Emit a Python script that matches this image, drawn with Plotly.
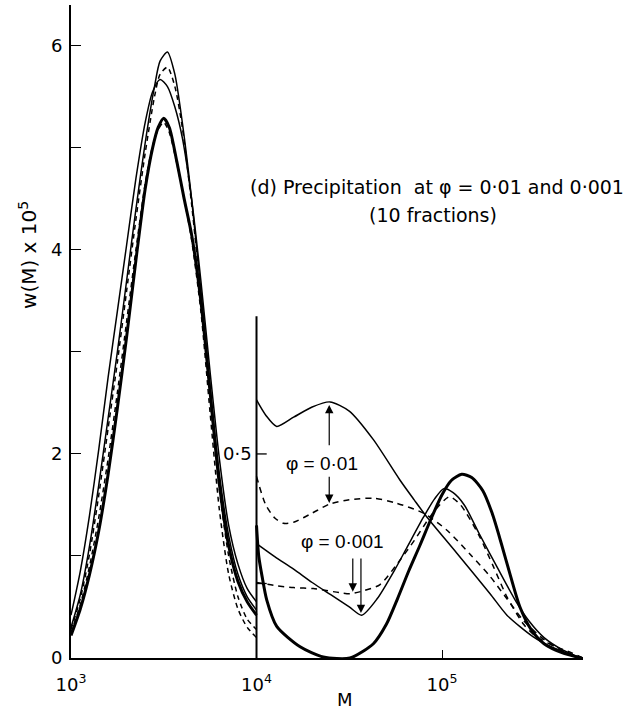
import plotly.graph_objects as go

# ---------------- data (log10 M, w(M) x 1e5 in main-axis units) ----------------
# main low-M region (10^3 .. 10^4)
m1_logM = [3.0, 3.05, 3.1, 3.15, 3.2, 3.25, 3.3, 3.35, 3.4, 3.45, 3.48, 3.52, 3.56, 3.6, 3.65, 3.7, 3.75, 3.8, 3.85, 3.9, 3.95, 4.0]
m1_w = [0.30, 0.62, 1.1, 1.7, 2.35, 3.0, 3.7, 4.4, 5.05, 5.6, 5.85, 5.94, 5.72, 5.25, 4.5, 3.6, 2.65, 1.8, 1.2, 0.82, 0.6, 0.47]

m2_logM = m1_logM
m2_w = [0.28, 0.58, 1.02, 1.6, 2.25, 2.9, 3.6, 4.3, 4.95, 5.5, 5.72, 5.79, 5.6, 5.2, 4.45, 3.55, 2.55, 1.65, 1.0, 0.6, 0.38, 0.28]

m3_logM = [3.0, 3.05, 3.1, 3.15, 3.2, 3.25, 3.3, 3.35, 3.4, 3.44, 3.48, 3.52, 3.56, 3.6, 3.65, 3.7, 3.75, 3.8, 3.85, 3.9, 3.95, 4.0]
m3_w = [0.42, 0.85, 1.4, 2.05, 2.75, 3.4, 4.05, 4.7, 5.25, 5.55, 5.67, 5.6, 5.4, 5.1, 4.5, 3.7, 2.8, 1.95, 1.3, 0.92, 0.68, 0.55]

m4_logM = [3.0, 3.05, 3.1, 3.15, 3.2, 3.25, 3.3, 3.35, 3.4, 3.44, 3.47, 3.5, 3.53, 3.57, 3.61, 3.65, 3.7, 3.75, 3.8, 3.85, 3.9, 3.95, 4.0]
m4_w = [0.22, 0.48, 0.82, 1.25, 1.8, 2.45, 3.15, 3.9, 4.6, 5.0, 5.2, 5.29, 5.2, 4.87, 4.5, 4.15, 3.5, 2.6, 1.7, 1.1, 0.75, 0.55, 0.42]

m5_logM = m4_logM
m5_w = [0.25, 0.52, 0.9, 1.38, 1.95, 2.6, 3.3, 4.0, 4.65, 5.02, 5.18, 5.25, 5.15, 4.85, 4.5, 4.1, 3.4, 2.4, 1.45, 0.82, 0.48, 0.3, 0.2]

# inset high-M region (10^4 .. 6x10^5), plotted in main-axis units
a_logM = [4.0, 4.05, 4.109, 4.2, 4.3, 4.396, 4.5, 4.63, 4.773, 4.85, 4.917, 5.079, 5.259, 5.35, 5.49, 5.6, 5.744]
a_w = [2.53, 2.38, 2.27, 2.36, 2.46, 2.51, 2.42, 2.14, 1.745, 1.55, 1.385, 1.03, 0.63, 0.42, 0.21, 0.1, 0.0]

b_logM = [4.0, 4.05, 4.1, 4.145, 4.2, 4.3, 4.396, 4.5, 4.63, 4.75, 4.9, 5.025, 5.15, 5.259, 5.35, 5.438, 5.55, 5.65, 5.76]
b_w = [1.78, 1.5, 1.37, 1.32, 1.33, 1.42, 1.51, 1.55, 1.566, 1.52, 1.42, 1.255, 1.02, 0.80, 0.58, 0.37, 0.18, 0.07, 0.0]

c_logM = [4.0, 4.1, 4.2, 4.3, 4.4, 4.5, 4.567, 4.65, 4.75, 4.81, 4.9, 4.96, 5.01, 5.06, 5.12, 5.2, 5.3, 5.4, 5.47, 5.55, 5.65, 5.75]
c_w = [1.12, 0.99, 0.87, 0.74, 0.62, 0.50, 0.42, 0.58, 0.88, 1.08, 1.38, 1.56, 1.66, 1.62, 1.5, 1.22, 0.88, 0.55, 0.36, 0.2, 0.08, 0.0]

d_logM = [4.0, 4.1, 4.2, 4.306, 4.45, 4.504, 4.58, 4.666, 4.774, 4.85, 4.95, 5.04, 5.1, 5.2, 5.276, 5.35, 5.44, 5.5, 5.6, 5.7, 5.76]
d_w = [0.74, 0.71, 0.69, 0.68, 0.64, 0.63, 0.66, 0.72, 0.96, 1.15, 1.42, 1.58, 1.5, 1.2, 0.9, 0.6, 0.33, 0.22, 0.12, 0.05, 0.0]

e_logM = [4.0, 4.012, 4.03, 4.055, 4.109, 4.235, 4.36, 4.504, 4.63, 4.7, 4.76, 4.82, 4.88, 4.94, 5.0, 5.05, 5.106, 5.16, 5.22, 5.27, 5.32, 5.37, 5.42, 5.48, 5.55, 5.65, 5.75]
e_w = [1.3, 1.0, 0.8, 0.57, 0.31, 0.11, 0.01, 0.0, 0.14, 0.33, 0.58, 0.85, 1.1, 1.36, 1.6, 1.74, 1.80, 1.77, 1.64, 1.42, 1.12, 0.8, 0.5, 0.28, 0.14, 0.05, 0.0]

# axes / ticks
x_tick_M = [1e3, 1e4, 1e5]
x_tick_text = ["10<sup>3</sup>", "10<sup>4</sup>", "10<sup>5</sup>"]
y_tick_vals = [0, 1, 2, 3, 4, 5, 6]
y_tick_text = ["0", "", "2", "", "4", "", "6"]
inset_axis_top = 3.35
inset_tick_w = [2.0, 0.73]
inset_tick_text = ["0·5", ""]

FONT = "DejaVu Sans"
BLACK = "black"


def to_M(logs):
    return [10 ** v for v in logs]


fig = go.Figure()

curves = [
    (m1_logM, m1_w, 1.5, "solid"),
    (m2_logM, m2_w, 1.5, "5px,4px"),
    (m3_logM, m3_w, 1.5, "solid"),
    (m4_logM, m4_w, 3.0, "solid"),
    (m5_logM, m5_w, 1.5, "5px,4px"),
    (a_logM, a_w, 1.5, "solid"),
    (b_logM, b_w, 1.5, "6px,5px"),
    (c_logM, c_w, 1.5, "solid"),
    (d_logM, d_w, 1.5, "6px,5px"),
    (e_logM, e_w, 3.0, "solid"),
]
for lx, wy, lw, dash in curves:
    fig.add_trace(go.Scatter(
        x=to_M(lx), y=wy, mode="lines",
        line=dict(color=BLACK, width=lw, dash=dash, shape="spline", smoothing=0.7),
        hoverinfo="skip", showlegend=False))

# inset vertical axis at M = 1e4
fig.add_trace(go.Scatter(x=[1e4, 1e4], y=[0, inset_axis_top], mode="lines",
                         line=dict(color=BLACK, width=2), hoverinfo="skip", showlegend=False))
for tw in inset_tick_w:
    fig.add_trace(go.Scatter(x=[1e4, 10 ** 4.055], y=[tw, tw], mode="lines",
                             line=dict(color=BLACK, width=1.3), hoverinfo="skip", showlegend=False))

annotations = []
for tw, tt in zip(inset_tick_w, inset_tick_text):
    if tt:
        annotations.append(dict(x=3.985, y=tw, xref="x", yref="y", text=tt, showarrow=False,
                                xanchor="right", yanchor="middle", font=dict(family=FONT, size=18, color=BLACK)))

annotations += [
    dict(x=3.955, y=4.62, xref="x", yref="y", text="(d) Precipitation  at φ = 0·01 and 0·001",
         showarrow=False, xanchor="left", yanchor="middle", font=dict(family=FONT, size=19, color=BLACK)),
    dict(x=4.95, y=4.34, xref="x", yref="y", text="(10 fractions)",
         showarrow=False, xanchor="center", yanchor="middle", font=dict(family=FONT, size=19, color=BLACK)),
    dict(x=4.353, y=1.91, xref="x", yref="y", text="φ = 0·01",
         showarrow=False, xanchor="center", yanchor="middle", font=dict(family="Liberation Sans", size=19, color=BLACK)),
    dict(x=4.466, y=1.14, xref="x", yref="y", text="φ = 0·001",
         showarrow=False, xanchor="center", yanchor="middle", font=dict(family="Liberation Sans", size=19, color=BLACK)),
    dict(x=-0.084, y=3.95, xref="paper", yref="y", text="w(M) x 10<sup>5</sup>", textangle=-90,
         showarrow=False, xanchor="center", yanchor="middle", font=dict(family=FONT, size=20, color=BLACK)),
    dict(x=0.535, y=-0.064, xref="paper", yref="paper", text="M",
         showarrow=False, xanchor="center", yanchor="middle", font=dict(family=FONT, size=18, color=BLACK)),
]

# arrows (head, tail) in (log10 M, w)
arrows = [
    ((4.392, 2.48), (4.392, 2.07)),
    ((4.392, 1.52), (4.392, 1.79)),
    ((4.519, 0.65), (4.519, 0.99)),
    ((4.563, 0.44), (4.563, 0.99)),
]
for (hx, hy), (tx, ty) in arrows:
    annotations.append(dict(x=hx, y=hy, ax=tx, ay=ty, xref="x", yref="y", axref="x", ayref="y",
                            text="", showarrow=True, arrowhead=2, arrowsize=1.4, arrowwidth=1.2,
                            arrowcolor=BLACK))

fig.update_layout(
    width=636, height=709,
    margin=dict(l=71, r=53, t=5, b=51),
    paper_bgcolor="white", plot_bgcolor="white",
    annotations=annotations,
    showlegend=False,
    xaxis=dict(type="log", range=[3, 5.76], showgrid=False, zeroline=False,
               showline=True, linecolor=BLACK, linewidth=2,
               tickvals=x_tick_M, ticktext=x_tick_text, ticks="inside", ticklen=8,
               tickwidth=1.3, tickcolor=BLACK, ticklabelstandoff=9,
               tickfont=dict(family=FONT, size=18, color=BLACK)),
    yaxis=dict(range=[0, 6.4], showgrid=False, zeroline=False,
               showline=True, linecolor=BLACK, linewidth=2,
               tickvals=y_tick_vals, ticktext=y_tick_text, ticks="inside", ticklen=10,
               tickwidth=1.3, tickcolor=BLACK, ticklabelstandoff=3,
               tickfont=dict(family=FONT, size=18, color=BLACK)),
)

fig.write_html("out.html", config={"displayModeBar": False},
               post_script="document.body.style.margin='0';document.body.style.overflow='hidden';")
